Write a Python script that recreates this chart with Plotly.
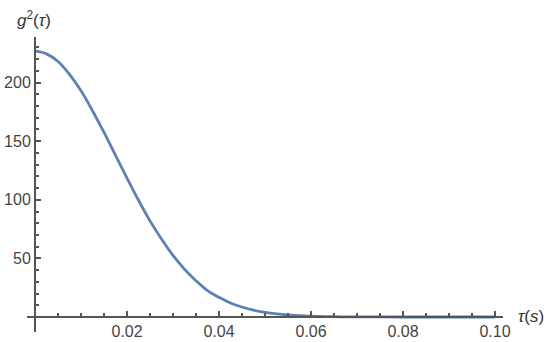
import plotly.graph_objects as go

# values
tau = [0.0, 0.0025, 0.005, 0.0075, 0.01, 0.0125, 0.015, 0.0175, 0.02, 0.0225,
       0.025, 0.0275, 0.03, 0.0325, 0.035, 0.0375, 0.04, 0.0425, 0.045, 0.0475,
       0.05, 0.0525, 0.055, 0.0575, 0.06, 0.065, 0.07, 0.08, 0.09, 0.10]
g2 = [227, 224.5, 218, 207, 193, 176, 157.5, 138, 118.5, 99.6,
      82, 66.5, 52.5, 40.8, 31, 22.5, 16.8, 12, 8.5, 5.8,
      3.9, 2.6, 1.7, 1.05, 0.65, 0.24, 0.08, 0.01, 0.0, 0.0]

x_ticks = [0.02, 0.04, 0.06, 0.08, 0.10]
x_labels = ["0.02", "0.04", "0.06", "0.08", "0.10"]
y_ticks = [50, 100, 150, 200]
y_labels = ["50", "100", "150", "200"]

axis_grey = "#555555"
font = dict(family="Liberation Sans, Arial, sans-serif", size=16, color="#444444")
label_font = dict(family="Liberation Sans, Arial, sans-serif", size=17, color="#333333")

x_range = [-0.00174, 0.10174]
y_range = [-12.8, 238.9]
x_pos = (0 - x_range[0]) / (x_range[1] - x_range[0])
y_pos = (0 - y_range[0]) / (y_range[1] - y_range[0])

fig = go.Figure()
fig.add_trace(go.Scatter(
    x=tau, y=g2, mode="lines",
    line=dict(color="#5e81b5", width=2.8, shape="spline", smoothing=1.0),
    showlegend=False, hoverinfo="skip",
))

fig.update_layout(
    width=550, height=342,
    margin=dict(l=27, r=47, t=37, b=10),
    paper_bgcolor="white", plot_bgcolor="white",
    font=font,
    xaxis=dict(
        range=x_range, anchor="free", position=y_pos, automargin=False,
        showgrid=False, zeroline=False,
        showline=True, linecolor=axis_grey, linewidth=2,
        tickmode="array", tickvals=x_ticks, ticktext=x_labels,
        ticks="inside", ticklen=5, tickwidth=2, tickcolor=axis_grey,
        minor=dict(tickmode="array",
                   tickvals=[i * 0.005 for i in range(1, 21)],
                   ticks="inside", ticklen=3, tickwidth=1.5, tickcolor=axis_grey, showgrid=False),
        tickfont=font,
    ),
    yaxis=dict(
        range=y_range, anchor="free", position=x_pos, automargin=False,
        showgrid=False, zeroline=False,
        showline=True, linecolor=axis_grey, linewidth=2,
        tickmode="array", tickvals=y_ticks, ticktext=y_labels,
        ticks="inside", ticklen=5, tickwidth=2, tickcolor=axis_grey,
        minor=dict(tickmode="array",
                   tickvals=list(range(10, 240, 10)),
                   ticks="inside", ticklen=3, tickwidth=1.5, tickcolor=axis_grey, showgrid=False),
        tickfont=font,
    ),
    annotations=[
        dict(text="<i>g</i><sup>2</sup>(<i>τ</i>)", xref="paper", yref="paper",
             x=0.0147, y=1.06, xanchor="center", yanchor="middle", showarrow=False,
             font=label_font),
        dict(text="<i>τ</i>(<i>s</i>)", xref="paper", yref="paper",
             x=1.027, y=y_pos, xanchor="left", yanchor="middle", showarrow=False,
             font=label_font),
    ],
)

# the page body has a default margin; drop it so the figure sits at the window corner
fig.write_html("out.html", config={"displayModeBar": False},
               post_script="document.body.style.margin = '0';")
